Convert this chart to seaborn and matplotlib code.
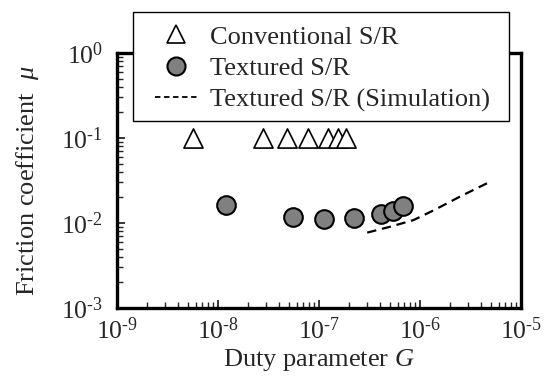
import numpy as np
import pandas as pd
import seaborn as sns
import matplotlib
matplotlib.use("Agg")
import matplotlib.pyplot as plt
from matplotlib.ticker import LogLocator, FixedLocator, FixedFormatter, NullFormatter
from matplotlib.lines import Line2D
from matplotlib.patches import Rectangle

# ---- data ----
conv_G = [5.6e-9, 2.8e-8, 4.8e-8, 7.8e-8, 1.22e-7, 1.53e-7, 1.85e-7]
conv_mu = [0.1, 0.1, 0.1, 0.1, 0.1, 0.1, 0.1]
tex_G = [1.19e-8, 5.5e-8, 1.13e-7, 2.22e-7, 4.08e-7, 5.44e-7, 6.84e-7]
tex_mu = [0.0163, 0.0117, 0.0111, 0.0115, 0.0128, 0.0140, 0.0160]
sim_G = [3.0e-7, 5.0e-7, 8.6e-7, 1.4e-6, 2.5e-6, 4.6e-6]
sim_mu = [0.0077, 0.0090, 0.0108, 0.0143, 0.0205, 0.0293]
x_ticks = [1e-9, 1e-8, 1e-7, 1e-6, 1e-5]
x_tick_labels = ["10$^{\\text{-9}}$", "10$^{\\text{-8}}$", "10$^{\\text{-7}}$",
                 "10$^{\\text{-6}}$", "10$^{\\text{-5}}$"]
y_ticks = [1e-3, 1e-2, 1e-1, 1e0]
y_tick_labels = ["10$^{\\text{-3}}$", "10$^{\\text{-2}}$", "10$^{\\text{-1}}$",
                 "10$^{\\text{0}}$"]
labels = ["Conventional S/R", "Textured S/R", "Textured S/R (Simulation)"]

sns.set_style("ticks")
plt.rcParams["font.family"] = ["Liberation Serif", "DejaVu Serif"]
plt.rcParams["mathtext.fontset"] = "custom"
plt.rcParams["mathtext.rm"] = "Liberation Serif"
plt.rcParams["mathtext.it"] = "Liberation Serif:italic"
plt.rcParams["mathtext.default"] = "regular"

FS = 19
TFS = 18.5

fig = plt.figure(figsize=(5.45, 3.76), dpi=100)
ax = fig.add_axes([0.2147, 0.181, 0.7413, 0.678])

conv = pd.DataFrame({"G": conv_G, "mu": conv_mu})
tex = pd.DataFrame({"G": tex_G, "mu": tex_mu})
sim = pd.DataFrame({"G": sim_G, "mu": sim_mu})

sns.lineplot(data=sim, x="G", y="mu", ax=ax, color="black", linewidth=1.6,
             linestyle=(0, (4.2, 2.6)), zorder=2)
sns.scatterplot(data=conv, x="G", y="mu", ax=ax, marker="^", s=190,
                facecolor="white", edgecolor="black", linewidth=1.2, zorder=3)
sns.scatterplot(data=tex, x="G", y="mu", ax=ax, marker="o", s=180,
                color="#808080", edgecolor="black", linewidth=1.5, zorder=3)

ax.set_xscale("log")
ax.set_yscale("log")
ax.set_xlim(1e-9, 1e-5)
ax.set_ylim(1e-3, 1e0)

ax.xaxis.set_major_locator(FixedLocator(x_ticks))
ax.xaxis.set_major_formatter(FixedFormatter(x_tick_labels))
ax.yaxis.set_major_locator(FixedLocator(y_ticks))
ax.yaxis.set_major_formatter(FixedFormatter(y_tick_labels))
ax.xaxis.set_minor_locator(LogLocator(base=10, subs=np.arange(2, 10), numticks=20))
ax.yaxis.set_minor_locator(LogLocator(base=10, subs=np.arange(2, 10), numticks=20))
ax.xaxis.set_minor_formatter(NullFormatter())
ax.yaxis.set_minor_formatter(NullFormatter())

ax.tick_params(axis="both", which="major", direction="in", length=6, width=1.3,
               labelsize=TFS, top=False, right=False)
ax.tick_params(axis="both", which="minor", direction="in", length=4, width=1.0,
               top=False, right=False)
ax.tick_params(axis="x", which="major", pad=7)
ax.tick_params(axis="y", which="major", pad=10)

for sp in ax.spines.values():
    sp.set_visible(True)
    sp.set_linewidth(2.4)
    sp.set_color("black")

ax.set_xlabel("Duty parameter $\\it{G}$", fontsize=FS, labelpad=2)
ax.set_ylabel("Friction coefficient  $\\it{\\mu}$", fontsize=FS, labelpad=14)

# legend box (frame drawn separately for its asymmetric padding)
box = Rectangle((0.04, 0.733), 0.93, 0.428, transform=ax.transAxes,
                facecolor="white", edgecolor="black", linewidth=1.0,
                clip_on=False, zorder=4)
ax.add_patch(box)

handles = [
    Line2D([], [], marker="^", linestyle="none", markersize=13, markerfacecolor="white",
           markeredgecolor="black", markeredgewidth=1.2),
    Line2D([], [], marker="o", linestyle="none", markersize=13, markerfacecolor="#808080",
           markeredgecolor="black", markeredgewidth=1.5),
    Line2D([], [], color="black", linewidth=1.3, linestyle=(0, (3, 2))),
]
leg = ax.legend(handles, labels, loc="upper left", bbox_to_anchor=(0.094, 1.109),
                fontsize=FS, frameon=False, borderpad=0, labelspacing=0.3,
                handlelength=1.6, handletextpad=0.5, borderaxespad=0)
leg.set_zorder(5)

fig.savefig("out.png", dpi=100)
